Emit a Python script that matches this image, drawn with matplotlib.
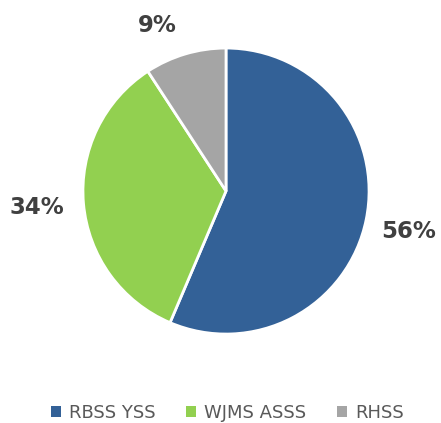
import numpy as np
import matplotlib
matplotlib.use('Agg')
import matplotlib.pyplot as plt

# Shares of each group, in percent
labels = ['RBSS YSS', 'WJMS ASSS', 'RHSS']
shares = [56.4, 34.4, 9.2]
colors = ['#336197', '#92D050', '#A5A5A5']

# radial distance of each percentage label, in pie radii, and small angle nudge (deg)
label_dist = [1.31, 1.33, 1.25]
label_nudge = [-1, 0, 6]

fig = plt.figure(figsize=(4.41, 4.23), dpi=100)
ax = fig.add_axes([0.0, 0.0, 1.0, 1.0])

wedges, _ = ax.pie(shares, colors=colors, startangle=90, counterclock=False,
                   radius=1.0, wedgeprops=dict(edgecolor='white', linewidth=2))

for w, s, d, n in zip(wedges, shares, label_dist, label_nudge):
    mid = np.deg2rad((w.theta1 + w.theta2) / 2 + n)
    ax.text(d * np.cos(mid), d * np.sin(mid), '{:.0f}%'.format(s),
            ha='center', va='center', fontsize=16.5, fontweight='bold',
            color='#404040')

ax.set_xlim(-1.580, 1.503)
ax.set_ylim(-1.622, 1.336)
ax.set_aspect('auto')
ax.axis('off')

leg = fig.legend(wedges, labels, loc='center', bbox_to_anchor=(0.515, 0.024),
                 ncol=3, frameon=False, fontsize=13, handlelength=0.55,
                 handleheight=0.55, handletextpad=0.45, columnspacing=1.7)
for t in leg.get_texts():
    t.set_color('#595959')
for h in leg.legend_handles:
    h.set_edgecolor('none')

fig.savefig('out.png', dpi=100)
